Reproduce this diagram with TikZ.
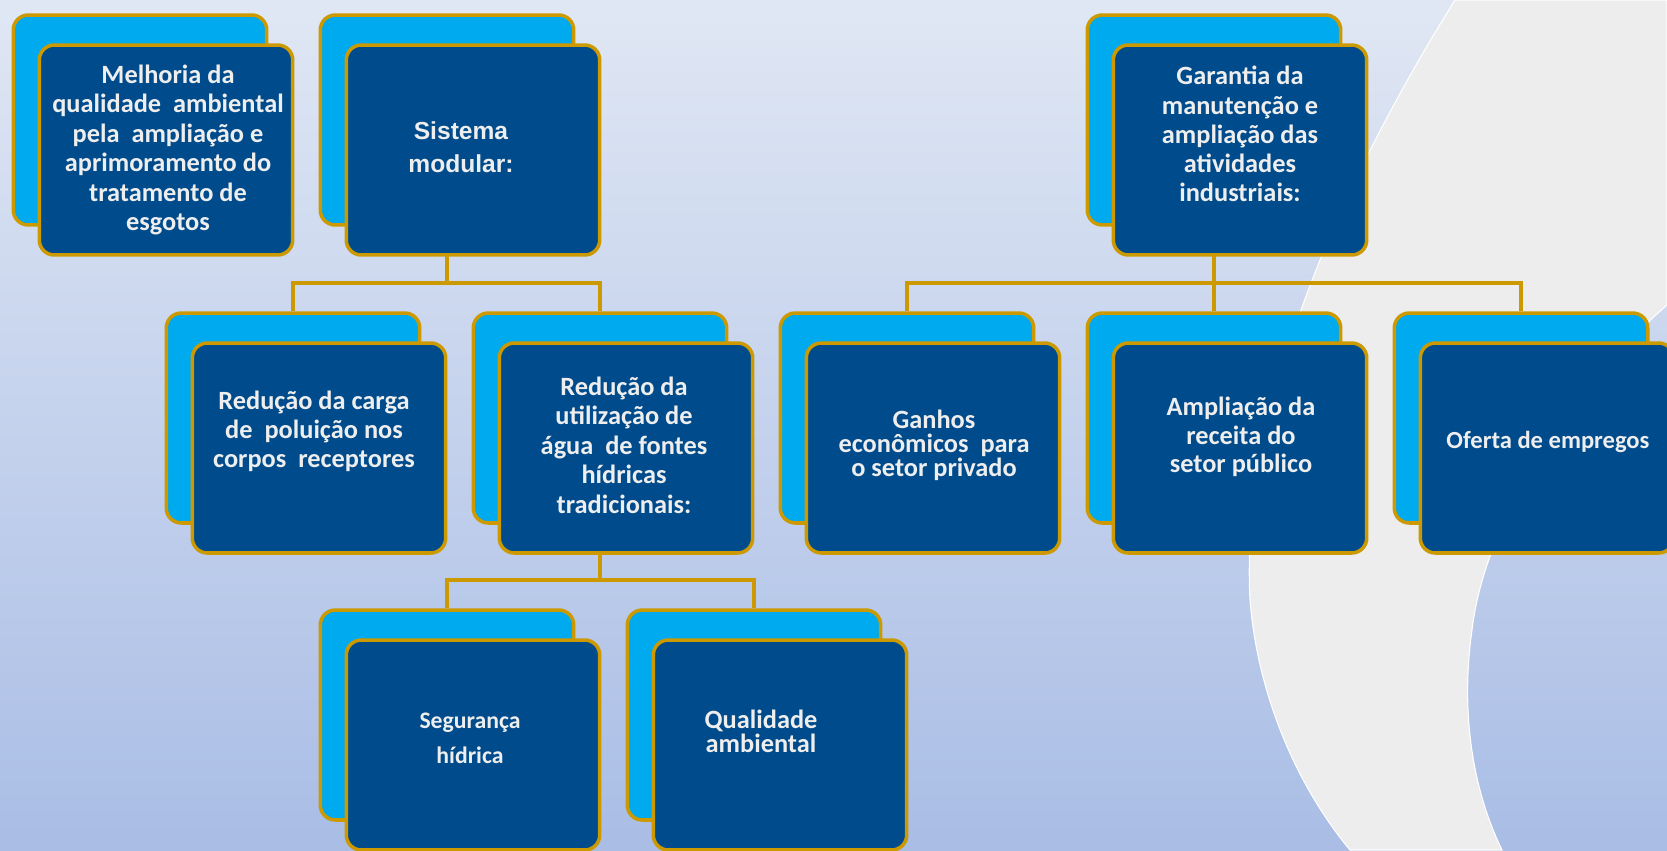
\documentclass[tikz,border=0pt]{standalone}
\usepackage{fontspec}
\setmainfont{Carlito}
\newfontfamily\arialfont{Liberation Sans}
\usepackage{tikz}
\usetikzlibrary{positioning}
\usetikzlibrary{calc}
\definecolor{bgtop}{HTML}{E0E7F4}
\definecolor{bgbot}{HTML}{A9BDE5}
\definecolor{swoosh}{HTML}{EDEDED}
\definecolor{gold}{HTML}{CC9A00}
\definecolor{cyanbox}{HTML}{00AAEE}
\definecolor{navybox}{HTML}{004B8B}
\definecolor{txtgray}{HTML}{EEEEEE}

\begin{document}
\begin{tikzpicture}[x=0.02cm,y=-0.02cm,
	backbox/.style={draw=gold, line width=2pt, fill=cyanbox, rounded corners=0.3cm, minimum width=5.07cm, minimum height=4.2cm, inner sep=0pt},
	frontbox/.style={backbox, fill=navybox},
	txt/.style={text=txtgray, font=\bfseries\fontsize{15}{16.8}\selectfont, align=center, inner sep=0pt},
	link/.style={draw=gold, line width=2pt}]
			\useasboundingbox (0,0) rectangle (1667,850);
			\clip (0,0) rectangle (1667,850);
			% background
			\fill[top color=bgtop, bottom color=bgbot] (0,0) rectangle (1667,850);
			\fill[swoosh, draw=white, line width=0.6pt] (1455,0) .. controls (1330,200) and (1240,420) .. (1250,600) .. controls (1258,700) and (1300,790) .. (1350,850) -- (1502,850) .. controls (1468,780) and (1462,700) .. (1472,630) .. controls (1485,520) and (1570,390) .. (1667,305) -- (1667,0) -- cycle;
			\coordinate (busA) at (0,283);
			\coordinate (busB) at (0,580);
			% back boxes
			\node at (140,120) (melhoriaB) [backbox] {};
			\node at (447,120) (sistemaB) [backbox] {};
			\node at (1214,120) (garantiaB) [backbox] {};
			\node at (293,418) (cargaB) [backbox] {};
			\node at (600,418) (utilB) [backbox] {};
			\node at (907,418) (ganhosB) [backbox] {};
			\node at (1214,418) (ampliacaoB) [backbox] {};
			\node at (1521,418) (ofertaB) [backbox] {};
			\node at (447,715) (segurancaB) [backbox] {};
			\node at (754,715) (qualidadeB) [backbox] {};
			% connectors
			\draw[link] (sistemaB |- 0,256) -- (sistemaB |- busA); \draw[link] (cargaB.north) |- (busA -| utilB) -- (utilB.north);
			\draw[link] (garantiaB |- 0,256) -- (garantiaB |- busA); \draw[link] (ganhosB.north) |- (busA -| ofertaB) -- (ofertaB.north); \draw[link] (ampliacaoB.north) -- (ampliacaoB |- busA);
			\draw[link] (utilB |- 0,553) -- (utilB |- busB); \draw[link] (segurancaB.north) |- (busB -| qualidadeB) -- (qualidadeB.north);
			% front boxes
			\node at (166,150) (melhoria) [frontbox] {};
			\node at (473,150) (sistema) [frontbox] {};
			\node at (1240,150) (garantia) [frontbox] {};
			\node at (319,448) (carga) [frontbox] {};
			\node at (626,448) (util) [frontbox] {};
			\node at (933,448) (ganhos) [frontbox] {};
			\node at (1240,448) (ampliacao) [frontbox] {};
			\node at (1547,448) (oferta) [frontbox] {};
			\node at (473,745) (seguranca) [frontbox] {};
			\node at (780,745) (qualidade) [frontbox] {};
			% texts (not all centered in their boxes)
			\node at (168,150) (melhoriaT) [txt] {Melhoria da\\qualidade~ ambiental\\pela~ ampliação e\\aprimoramento do\\tratamento de\\esgotos};
			\node at (461,147) (sistemaT) [txt, font=\arialfont\bfseries\fontsize{14}{18.8}\selectfont] {Sistema\\modular:};
			\node at (1240,134) (garantiaT) [txt, font=\bfseries\fontsize{15}{16.6}\selectfont] {Garantia da\\manutenção e\\ampliação das\\atividades\\industriais:};
			\node at (314,431) (cargaT) [txt, font=\bfseries\fontsize{15}{16.6}\selectfont] {Redução da carga\\de~ poluição nos\\corpos~ receptores};
			\node at (624,445) (utilT) [txt] {Redução da\\utilização de\\água~ de fontes\\hídricas\\tradicionais:};
			\node at (934,445) (ganhosT) [txt, font=\bfseries\fontsize{15}{13.6}\selectfont] {Ganhos\\econômicos~ para\\o setor privado};
			\node at (1241,437) (ampliacaoT) [txt, font=\bfseries\fontsize{15}{16.3}\selectfont] {Ampliação da\\receita do\\setor público};
			\node at (1548,442) (ofertaT) [txt, font=\bfseries\fontsize{14}{16}\selectfont] {Oferta de empregos};
			\node at (470,738) (segurancaT) [txt, font=\bfseries\fontsize{13.5}{20}\selectfont] {Segurança\\hídrica};
			\node at (761,731) (qualidadeT) [txt, font=\bfseries\fontsize{15}{13.6}\selectfont] {Qualidade\\ambiental};
\end{tikzpicture}
\end{document}
